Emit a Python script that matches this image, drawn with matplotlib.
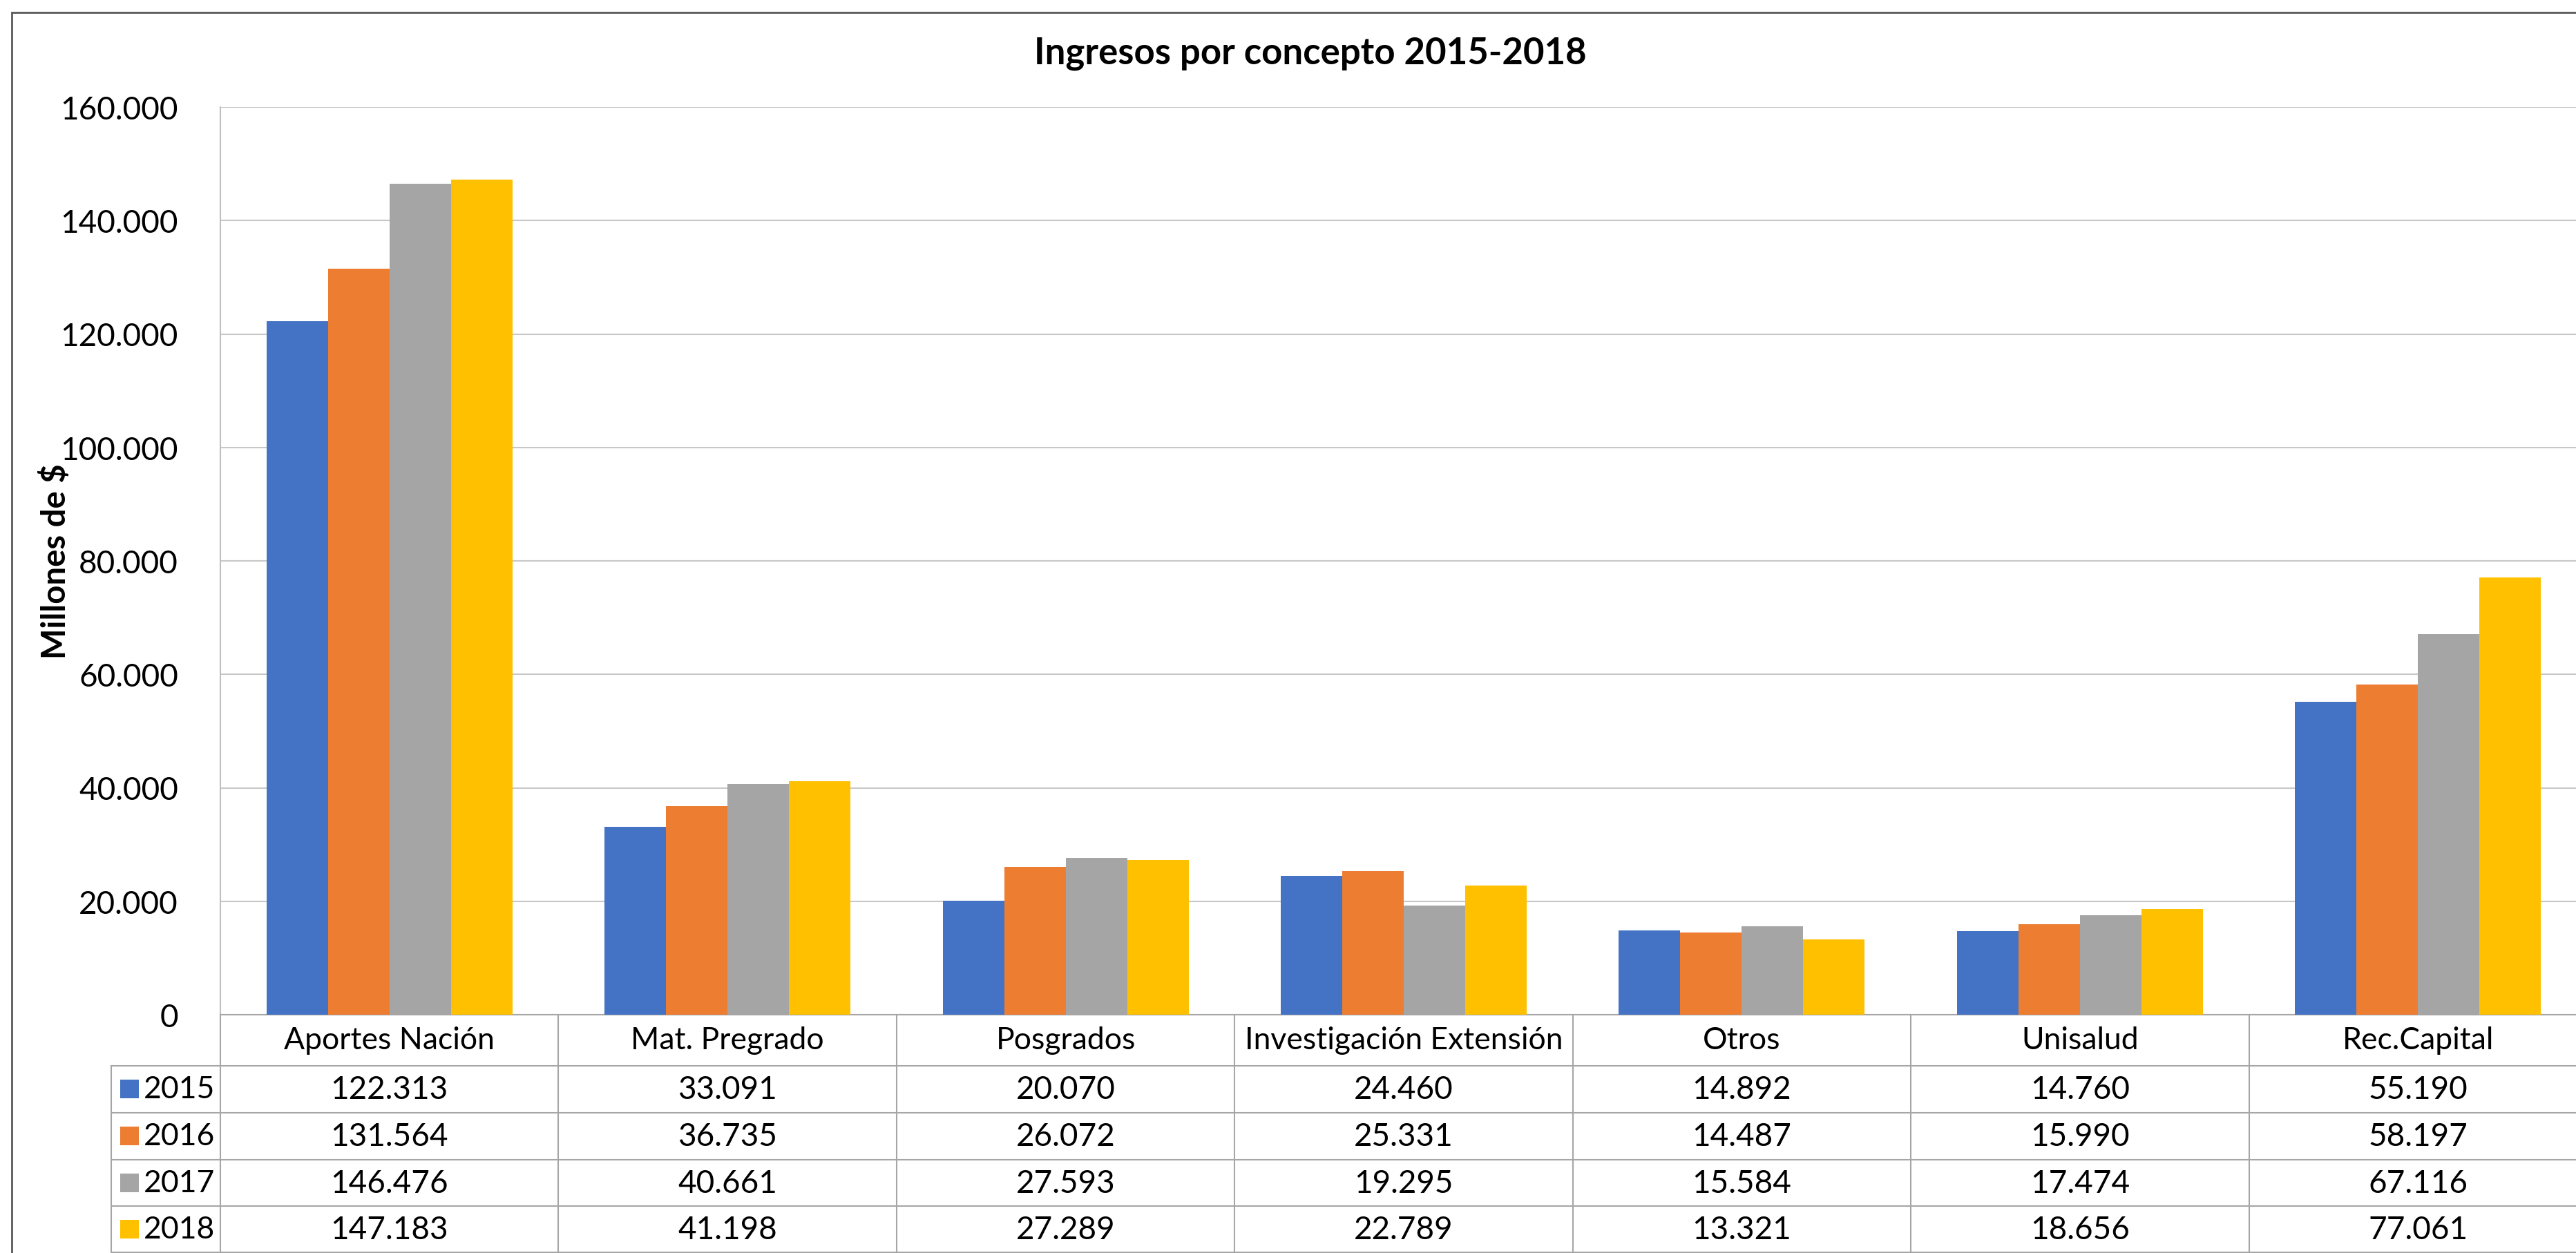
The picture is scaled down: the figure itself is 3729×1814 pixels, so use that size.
import matplotlib
matplotlib.use('Agg')
import matplotlib.pyplot as plt
import matplotlib.transforms as mtransforms
from matplotlib.patches import Rectangle
from matplotlib.ticker import FuncFormatter

plt.rcParams['font.family'] = ['Lato', 'DejaVu Sans']

# data (millones de $)
categories = ['Aportes Nación', 'Mat. Pregrado', 'Posgrados',
              'Investigación Extensión', 'Otros', 'Unisalud', 'Rec.Capital']
years = ['2015', '2016', '2017', '2018']
v2015 = [122313, 33091, 20070, 24460, 14892, 14760, 55190]
v2016 = [131564, 36735, 26072, 25331, 14487, 15990, 58197]
v2017 = [146476, 40661, 27593, 19295, 15584, 17474, 67116]
v2018 = [147183, 41198, 27289, 22789, 13321, 18656, 77061]
series = [v2015, v2016, v2017, v2018]
colors = ['#4472C4', '#ED7D31', '#A5A5A5', '#FFC000']
yticks = [0, 20000, 40000, 60000, 80000, 100000, 120000, 140000, 160000]

W, H = 3729, 1815
DPI = 100
FS = 33


def fx(px):
    return px / W


def fy(py):
    return 1 - py / H


def miles(v):
    return '{:,}'.format(int(v)).replace(',', '.')


fig = plt.figure(figsize=(W / DPI, H / DPI), dpi=DPI)

# chart border (cut by the image on right and bottom)
fig.patches.append(Rectangle((fx(17), fy(1830)), fx(3800) - fx(17), fy(19) - fy(1830),
                             transform=fig.transFigure, fill=False,
                             edgecolor='#595959', linewidth=2))

ax_left, ax_right, ax_top, ax_bot = 319, 3745, 156, 1470
ax = fig.add_axes([fx(ax_left), fy(ax_bot), fx(ax_right) - fx(ax_left), fy(ax_top) - fy(ax_bot)])

n = len(categories)
w = 1 / 5.5
for k, (vals, col) in enumerate(zip(series, colors)):
    xs = [i + (k - 1.5) * w for i in range(n)]
    ax.bar(xs, vals, width=w, color=col, zorder=3)

ax.set_xlim(-0.5, n - 0.5)
ax.set_ylim(0, 160000)
ax.set_yticks(yticks)
ax.yaxis.set_major_formatter(FuncFormatter(lambda v, p: miles(v)))
ax.tick_params(axis='y', length=0, pad=44, labelsize=FS)
ax.set_xticks([])
ax.grid(axis='y', color='#C8C8C8', linewidth=1.5, zorder=0)
for s in ['top', 'right']:
    ax.spines[s].set_visible(False)
ax.spines['left'].set_color('#BFBFBF')
ax.spines['left'].set_linewidth(1.5)
ax.spines['bottom'].set_color('#A6A6A6')
ax.spines['bottom'].set_linewidth(1.5)

fig.text(fx(1897), fy(77), 'Ingresos por concepto 2015-2018', ha='center', va='center',
         fontsize=38, fontweight='bold')
fig.text(fx(80), fy(813), 'Millones de $', ha='center', va='center', rotation=90,
         fontsize=34, fontweight='bold')

# data table
tr = mtransforms.blended_transform_factory(ax.transData, fig.transFigure)
line_col = '#A6A6A6'
row_lines = [1544, 1612, 1680, 1747, 1814]
for py in row_lines:
    fig.add_artist(plt.Line2D([fx(161), fx(3800)], [fy(py), fy(py)], transform=fig.transFigure,
                              color=line_col, linewidth=1.5))
for i in range(n + 1):
    ax.plot([i - 0.5, i - 0.5], [fy(1470), fy(1830)], transform=tr, color=line_col,
            linewidth=1.5, clip_on=False)
fig.add_artist(plt.Line2D([fx(161), fx(161)], [fy(1544), fy(1830)], transform=fig.transFigure,
                          color=line_col, linewidth=1.5))

for i, cat in enumerate(categories):
    ax.text(i, fy(1507), cat, transform=tr, ha='center', va='center', fontsize=32)

row_centers = [1578, 1646, 1714, 1781]
for k, (vals, col, yr) in enumerate(zip(series, colors, years)):
    yc = row_centers[k]
    fig.patches.append(Rectangle((fx(174), fy(yc + 13)), fx(27), 27 / H,
                                 transform=fig.transFigure, facecolor=col, edgecolor='none'))
    fig.text(fx(208), fy(yc), yr, ha='left', va='center', fontsize=32)
    for i, v in enumerate(vals):
        ax.text(i, fy(yc), miles(v), transform=tr, ha='center', va='center', fontsize=FS)

fig.savefig('out.png', dpi=DPI)
